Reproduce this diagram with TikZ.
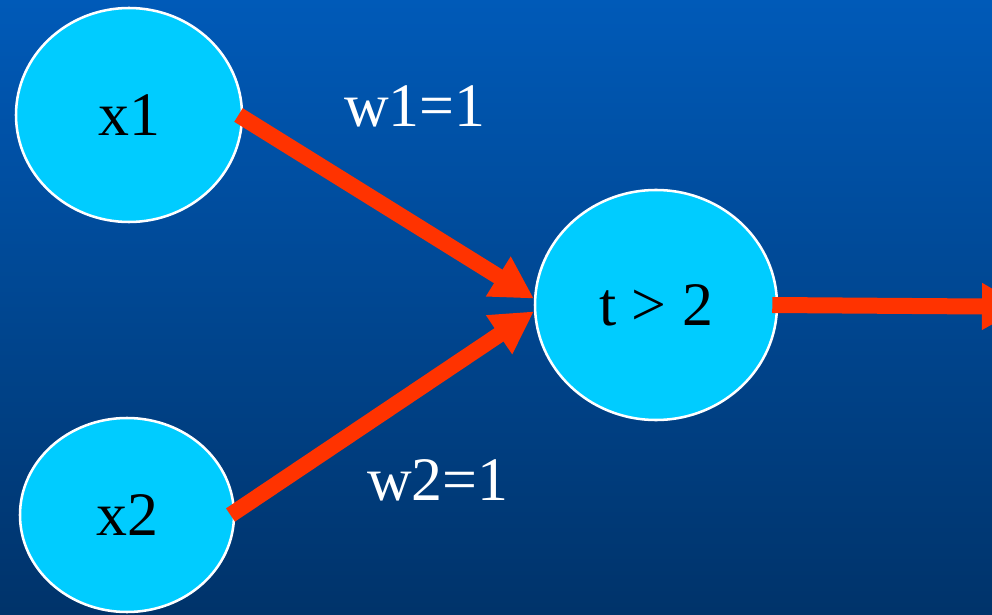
\documentclass[tikz,border=0pt]{standalone}
\usepackage{fontspec}
\setmainfont{Liberation Serif}
\usetikzlibrary{arrows.meta,shapes.geometric}
\definecolor{pctop}{HTML}{005AB8}
\definecolor{pcbottom}{HTML}{00336A}
\definecolor{pccyan}{HTML}{00CCFF}
\definecolor{pcred}{HTML}{FF3300}
\tikzset{
  unit/.style={ellipse,draw=white,fill=pccyan,line width=1.8pt,inner sep=0pt,text=black,font=\fontsize{44}{50}\selectfont},
  wire/.style={-{Triangle[length=1.05cm,width=1.1cm]},draw=pcred,line width=0.4cm},
  weight/.style={text=white,font=\fontsize{44}{50}\selectfont},
}
\begin{document}
\begin{tikzpicture}
  \useasboundingbox (0,0) rectangle (24.8,15.35);
  \shade[top color=pctop,bottom color=pcbottom] (0,0) rectangle (24.8,15.35);
  \node[unit,minimum width=5.65cm,minimum height=5.35cm] (x1) at (3.225,12.475) {x1};
  \node[unit,minimum width=5.35cm,minimum height=4.85cm] (x2) at (3.175,2.475) {x2};
  \node[unit,minimum width=6.05cm,minimum height=5.75cm] (t) at (16.4,7.725) {t > 2};
  \coordinate (out) at (25.6,7.68);
  \draw[wire] ([xshift=-0.12cm]x1.east) -- (t.177);
  \draw[wire] ([xshift=-0.12cm]x2.east) -- (t.183);
  \draw[wire] ([xshift=-0.15cm]t.east) -- (out);
  \node[weight] (w1) at (10.375,12.68) {w1=1};
  \node[weight] (w2) at (10.95,3.35) {w2=1};
\end{tikzpicture}
\end{document}
